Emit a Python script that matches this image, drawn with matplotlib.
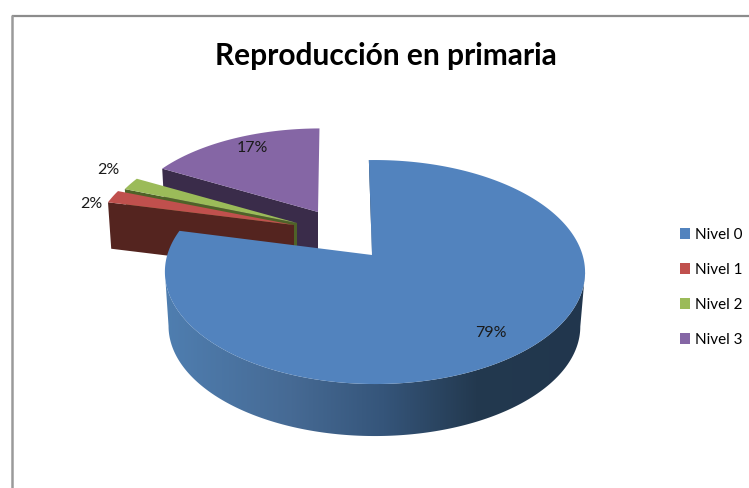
import matplotlib
matplotlib.use('Agg')
import matplotlib.pyplot as plt
import numpy as np
from matplotlib.colors import LinearSegmentedColormap
from matplotlib.patches import Patch, Polygon

plt.rcParams['font.family'] = ['Lato', 'DejaVu Sans']

# Chart data
title = 'Reproducción en primaria'
categories = ['Nivel 0', 'Nivel 1', 'Nivel 2', 'Nivel 3']
values = [79, 2, 2, 17]
labels = ['79%', '2%', '2%', '17%']

top_colors = ['#5283be', '#c0504d', '#9bbb59', '#8566a5']
wall_colors = ['#23394f', '#54241f', '#4f6228', '#3a2c4a']

# Exploded slices: apex of each slice and its size on the page
apex_x = [372, 294, 297, 318]
apex_y = [255, 225, 223, 212]
scale_x = [1.0, 0.966, 0.945, 0.935]
scale_y = [1.0, 0.94, 0.94, 0.88]
slice_turn = [0, 0, 0, 1.5]
slice_depth = [54.6, 46, 46, 46]
label_x = [491, 91, 108, 252]
label_y = [333, 204, 170, 148]

START_ANGLE = -1
RX, RY = 207.6, 109.4
TILT_V, TILT_U = 0.152, -0.014
BOTTOM_SCALE = 0.98


def project(theta, i, bottom=False):
    # unit disc -> page, with a perspective divide so the far side shrinks
    u, v = np.sin(np.radians(theta)), np.cos(np.radians(theta))
    w = 1 + TILT_V * v + TILT_U * u
    x, y = RX * u / w * scale_x[i], -RY * v / w * scale_y[i]
    if bottom:
        return apex_x[i] + x * BOTTOM_SCALE - 0.5, apex_y[i] + y * BOTTOM_SCALE + slice_depth[i]
    return apex_x[i] + x, apex_y[i] + y


fig = plt.figure(figsize=(7.49, 4.88), dpi=100)
ax = fig.add_axes([0, 0, 1, 1])
ax.set_xlim(0, 749)
ax.set_ylim(488, 0)
ax.axis('off')

# chart frame, only top and left show
ax.plot([11.5, 749], [15.5, 15.5], color='#8c8c8c', lw=1.6, solid_capstyle='butt', zorder=1)
ax.plot([11.5, 11.5], [15, 488], color='#9a9a9a', lw=1.8, solid_capstyle='butt', zorder=1)

angles = START_ANGLE + np.cumsum([0] + values) * 3.6

# back slices first so the big one covers them
for i in [3, 2, 1]:
    apex = (apex_x[i], apex_y[i])
    a0, a1 = angles[i] + slice_turn[i], angles[i + 1] + slice_turn[i]
    top_out = project(a0, i)
    bot_out = project(a0, i, bottom=True)
    bot_apex = (apex[0], apex[1] + slice_depth[i])
    ax.add_patch(Polygon([top_out, apex, bot_apex, bot_out], closed=True,
                         fc=wall_colors[i], ec='none', zorder=2 + (3 - i) * 2))
    th = np.linspace(a0, a1, 40)
    arc = np.column_stack(project(th, i))
    ax.add_patch(Polygon(np.vstack([[apex], arc]), closed=True,
                         fc=top_colors[i], ec='none', zorder=3 + (3 - i) * 2))

# big slice: curved side with a horizontal gradient
apex = (apex_x[0], apex_y[0])
a0, a1 = angles[0], angles[1]
th = np.linspace(a0, a1, 400)
top_arc = np.column_stack(project(th, 0))
bot_arc = np.column_stack(project(th, 0, bottom=True))


def silhouette(arc):
    # the part of an arc between its rightmost and leftmost points
    return arc[np.argmax(arc[:, 0]):np.argmin(arc[:, 0]) + 1]


side_pts = np.vstack([silhouette(top_arc), silhouette(bot_arc)[::-1]])
side = Polygon(side_pts, closed=True, fc='none', ec='none', zorder=10)
ax.add_patch(side)
shade = LinearSegmentedColormap.from_list('side', [(0, '#4f7eb0'), (0.3, '#466a94'), (0.52, '#35557a'),
                                                   (0.74, '#23394f'), (1, '#21364d')])
im = ax.imshow(np.linspace(0, 1, 256)[None, :], cmap=shade, aspect='auto',
               extent=(165, 586, 440, 250), zorder=10)
im.set_clip_path(side)
ax.set_xlim(0, 749)
ax.set_ylim(488, 0)

# thin cut face on the upper edge of the big slice
cut_x, cut_y = project(a0, 0)
ax.add_patch(Polygon([(cut_x, cut_y), apex, (apex[0], apex[1] + 4), (cut_x + 2, cut_y + 2)],
                     closed=True, fc=wall_colors[0], ec='none', zorder=10))
ax.add_patch(Polygon(np.vstack([[apex], top_arc]), closed=True, fc=top_colors[0],
                     ec='none', zorder=11))

for i in range(len(values)):
    ax.text(label_x[i], label_y[i], labels[i], fontsize=11.5, color='#1a1a1a',
            ha='center', va='center', zorder=12)

ax.text(386, 56, title, fontsize=21.5, fontweight='bold', color='black',
        ha='center', va='center', zorder=12)

handles = [Patch(fc=c, ec='none') for c in top_colors]
ax.legend(handles, categories, loc='center left', bbox_to_anchor=(680 / 749, 1 - 287.5 / 488),
          frameon=False, fontsize=11, handlelength=0.65, handleheight=0.7, handletextpad=0.33,
          labelspacing=1.37, borderpad=0, borderaxespad=0)

fig.savefig('out.png', dpi=100)
